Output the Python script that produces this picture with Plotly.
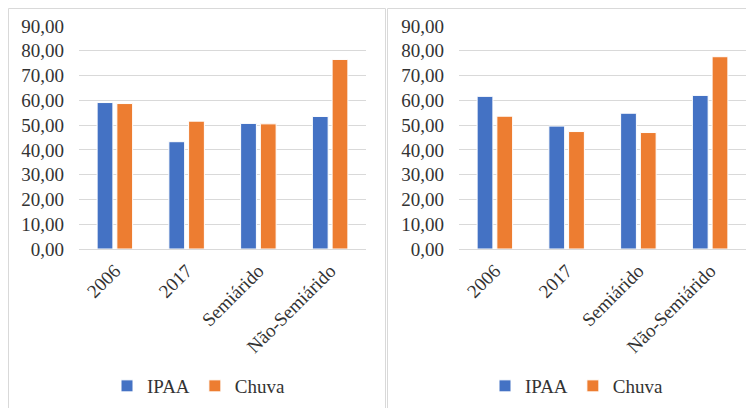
import plotly.graph_objects as go

categories = ["2006", "2017", "Semiárido", "Não-Semiárido"]
left_ipaa = [59.1, 43.3, 50.7, 53.5]
left_chuva = [58.7, 51.6, 50.5, 76.5]
right_ipaa = [61.6, 49.6, 54.8, 62.0]
right_chuva = [53.6, 47.4, 47.0, 77.6]
y_ticks = [0, 10, 20, 30, 40, 50, 60, 70, 80, 90]

OFF = 8  # page body margin
W, H = 754 - OFF, 408 - OFF
BLUE = "#4472C4"
ORANGE = "#ED7D31"
GRID = "#D9D9D9"
FONT = dict(family="Liberation Serif", size=19, color="#333333")

fig = go.Figure()

def px_x(v):
    return (v - OFF) / W

def px_y(v):
    return 1 - (v - OFF) / H

for i, (ipaa, chuva, leg) in enumerate([(left_ipaa, left_chuva, "legend"),
                                         (right_ipaa, right_chuva, "legend2")]):
    xa = "x" if i == 0 else "x2"
    ya = "y" if i == 0 else "y2"
    fig.add_trace(go.Bar(x=categories, y=ipaa, name="IPAA", marker=dict(color=BLUE, line=dict(color="white", width=1)),
                         xaxis=xa, yaxis=ya, legend=leg))
    fig.add_trace(go.Bar(x=categories, y=chuva, name="Chuva", marker=dict(color=ORANGE, line=dict(color="white", width=1)),
                         xaxis=xa, yaxis=ya, legend=leg))

ydom = [px_y(249), px_y(26)]
axis_common_x = dict(tickangle=-45, showgrid=False, showline=False, ticks="", tickfont=FONT, automargin=False,
                     ticklabelstandoff=6)
axis_common_y = dict(range=[0, 90], tickvals=y_ticks, tickformat=".2f", showgrid=True, gridcolor=GRID, gridwidth=1,
                     zeroline=True, zerolinecolor=GRID, zerolinewidth=1, showline=False, ticks="",
                     tickfont=FONT, automargin=False, ticklabelstandoff=14)

legend_common = dict(orientation="h", yanchor="middle", y=px_y(386), xanchor="center",
                     font=FONT, bgcolor="rgba(0,0,0,0)", itemwidth=30, tracegroupgap=0)

fig.update_layout(
    width=W, height=H,
    margin=dict(l=0, r=0, t=0, b=0),
    paper_bgcolor="white", plot_bgcolor="white",
    font=FONT,
    separators=",.",
    barmode="group", bargap=0.45, bargroupgap=0.2,
    xaxis=dict(domain=[px_x(79), px_x(366)], anchor="y", **axis_common_x),
    yaxis=dict(domain=ydom, anchor="x", **axis_common_y),
    xaxis2=dict(domain=[px_x(459), px_x(746)], anchor="y2", **axis_common_x),
    yaxis2=dict(domain=ydom, anchor="x2", **axis_common_y),
    legend=dict(x=px_x(199), **legend_common),
    legend2=dict(x=px_x(577), **legend_common),
    shapes=[
        dict(type="rect", xref="paper", yref="paper", x0=px_x(8.5), x1=px_x(385.5), y0=-0.05, y1=px_y(8.5),
             line=dict(color=GRID, width=1), fillcolor="rgba(0,0,0,0)", layer="below"),
        dict(type="rect", xref="paper", yref="paper", x0=px_x(387.5), x1=1.05, y0=-0.05, y1=px_y(8.5),
             line=dict(color=GRID, width=1), fillcolor="rgba(0,0,0,0)", layer="below"),
    ],
)

fig.write_html("out.html")
